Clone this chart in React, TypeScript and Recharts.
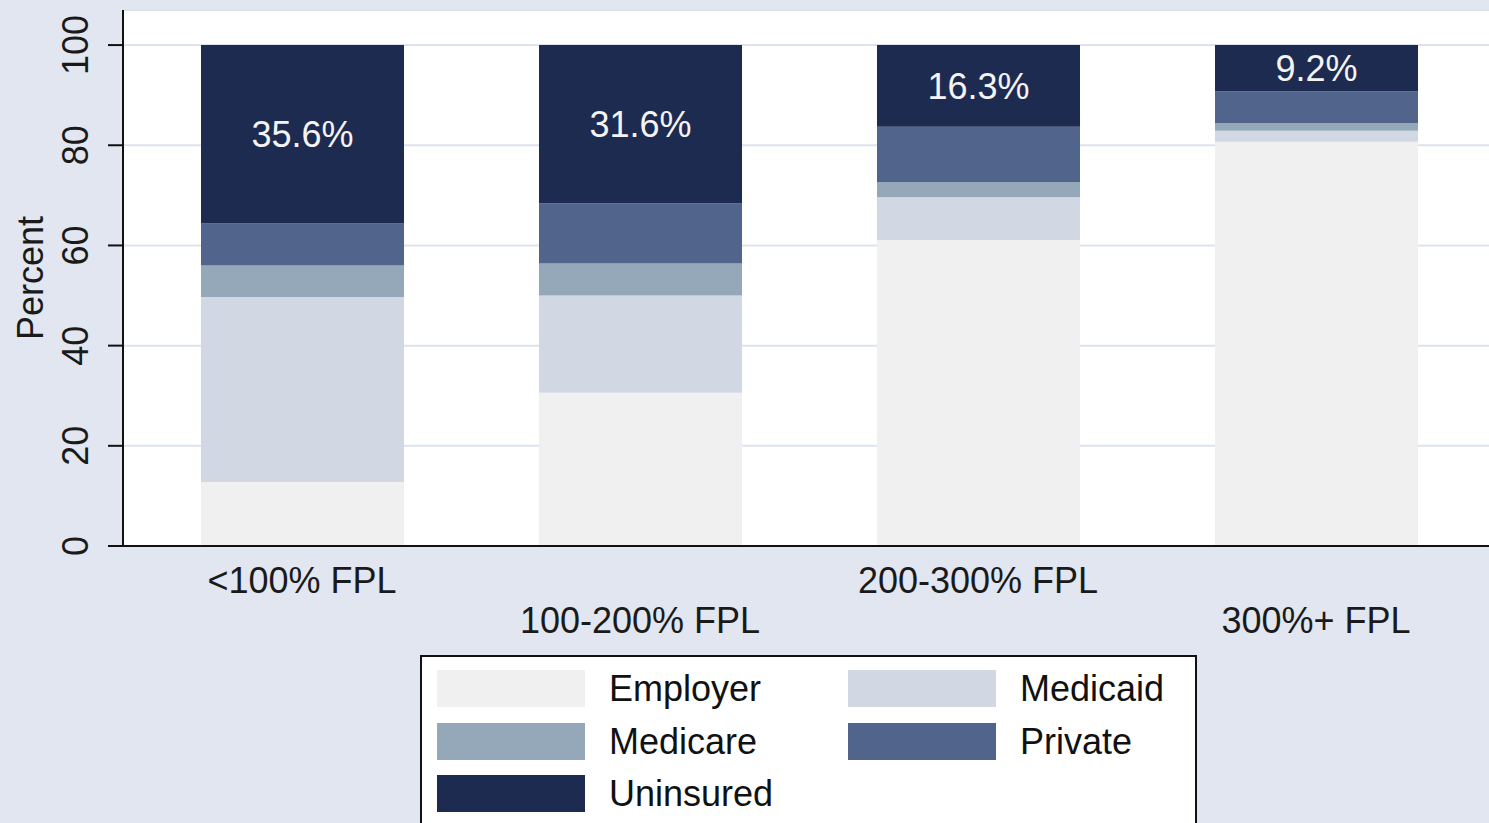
import { BarChart, Bar, XAxis, YAxis, CartesianGrid, Legend, LabelList, Label } from 'recharts'

const categories = ['<100% FPL', '100-200% FPL', '200-300% FPL', '300%+ FPL']
const employer = [12.8, 30.6, 61.1, 80.7]
const medicaid = [36.9, 19.4, 8.5, 2.2]
const medicare = [6.3, 6.4, 3.0, 1.5]
const privateIns = [8.4, 12.0, 11.1, 6.4]
const uninsured = [35.6, 31.6, 16.3, 9.2]
const yTicks = [0, 20, 40, 60, 80, 100]

const data = categories.map((name, i) => ({
  name,
  Employer: employer[i],
  Medicaid: medicaid[i],
  Medicare: medicare[i],
  Private: privateIns[i],
  Uninsured: uninsured[i],
}))

const FONT = '"Liberation Sans", Arial, sans-serif'
const BG = '#e1e6f0'

function XTick(props: any) {
  const { x, y, payload, index } = props
  const dy = index % 2 === 0 ? 47 : 87
  return (
    <text x={x} y={y + dy} textAnchor="middle" fontSize={36} fontFamily={FONT} fill="#1a1a1a">
      {payload.value}
    </text>
  )
}

function YTick(props: any) {
  const { x, y, payload } = props
  const bx = x - 20
  return (
    <text
      x={bx}
      y={y}
      transform={`rotate(-90, ${bx}, ${y})`}
      textAnchor="middle"
      fontSize={36}
      fontFamily={FONT}
      fill="#1a1a1a"
    >
      {payload.value}
    </text>
  )
}

function LegendBox(props: any) {
  const items = props.payload || []
  return (
    <div
      style={{
        width: 777,
        height: 190,
        boxSizing: 'border-box',
        border: '2px solid #111',
        background: '#fff',
        position: 'relative',
        fontFamily: FONT,
      }}
    >
      {items.map((it: any, i: number) => {
        const col = i % 2
        const row = Math.floor(i / 2)
        return (
          <div
            key={it.value}
            style={{
              position: 'absolute',
              left: 15 + col * 411,
              top: 13 + row * 52.5,
              display: 'flex',
              alignItems: 'center',
              height: 37,
            }}
          >
            <div style={{ width: 148, height: 37, background: it.color }} />
            <span style={{ marginLeft: 24, fontSize: 36, color: '#111', lineHeight: '37px' }}>{it.value}</span>
          </div>
        )
      })}
    </div>
  )
}

export default function App() {
  return (
    <div
      style={{
        position: 'absolute',
        left: 0,
        top: 0,
        width: 1489,
        height: 823,
        background: BG,
        overflow: 'hidden',
      }}
    >
      <BarChart width={1489} height={823} data={data} margin={{ top: 10, right: 0, left: 0, bottom: 0 }}>
        <CartesianGrid vertical={false} fill="#fff" stroke="#dde3ee" strokeWidth={2} />
        <XAxis
          dataKey="name"
          height={277}
          tickLine={false}
          tickSize={0}
          tickMargin={0}
          interval={0}
          padding={{ left: 10, right: 4 }}
          axisLine={{ stroke: '#111', strokeWidth: 2 }}
          tick={<XTick />}
        />
        <YAxis
          width={123}
          domain={[0, 107]}
          ticks={yTicks}
          allowDataOverflow
          tickSize={15}
          tickMargin={0}
          tickLine={{ stroke: '#111', strokeWidth: 2 }}
          axisLine={{ stroke: '#111', strokeWidth: 2 }}
          tick={<YTick />}
        >
          <Label
            content={(p: any) => {
              const vb = p.viewBox
              const cy = vb.y + vb.height / 2
              return (
                <text
                  x={43}
                  y={cy}
                  transform={`rotate(-90, 43, ${cy})`}
                  textAnchor="middle"
                  fontSize={36}
                  fontFamily={FONT}
                  fill="#1a1a1a"
                >
                  Percent
                </text>
              )
            }}
          />
        </YAxis>
        <Legend
          layout="horizontal"
          verticalAlign="middle"
          align="center"
          content={<LegendBox />}
          wrapperStyle={{ left: 420, top: 655, width: 777, height: 190 }}
        />
        <Bar dataKey="Employer" stackId="a" fill="#f0f0f0" barSize={203} isAnimationActive={false} />
        <Bar dataKey="Medicaid" stackId="a" fill="#d1d8e4" barSize={203} isAnimationActive={false} />
        <Bar dataKey="Medicare" stackId="a" fill="#95a8b9" barSize={203} isAnimationActive={false} />
        <Bar dataKey="Private" stackId="a" fill="#51648b" barSize={203} isAnimationActive={false} />
        <Bar dataKey="Uninsured" stackId="a" fill="#1e2b51" barSize={203} isAnimationActive={false}>
          <LabelList
            dataKey="Uninsured"
            position="center"
            fill="#f4f4f4"
            fontSize={36}
            fontFamily={FONT}
            formatter={(v: any) => `${Number(v).toFixed(1)}%`}
          />
        </Bar>
      </BarChart>
    </div>
  )
}
